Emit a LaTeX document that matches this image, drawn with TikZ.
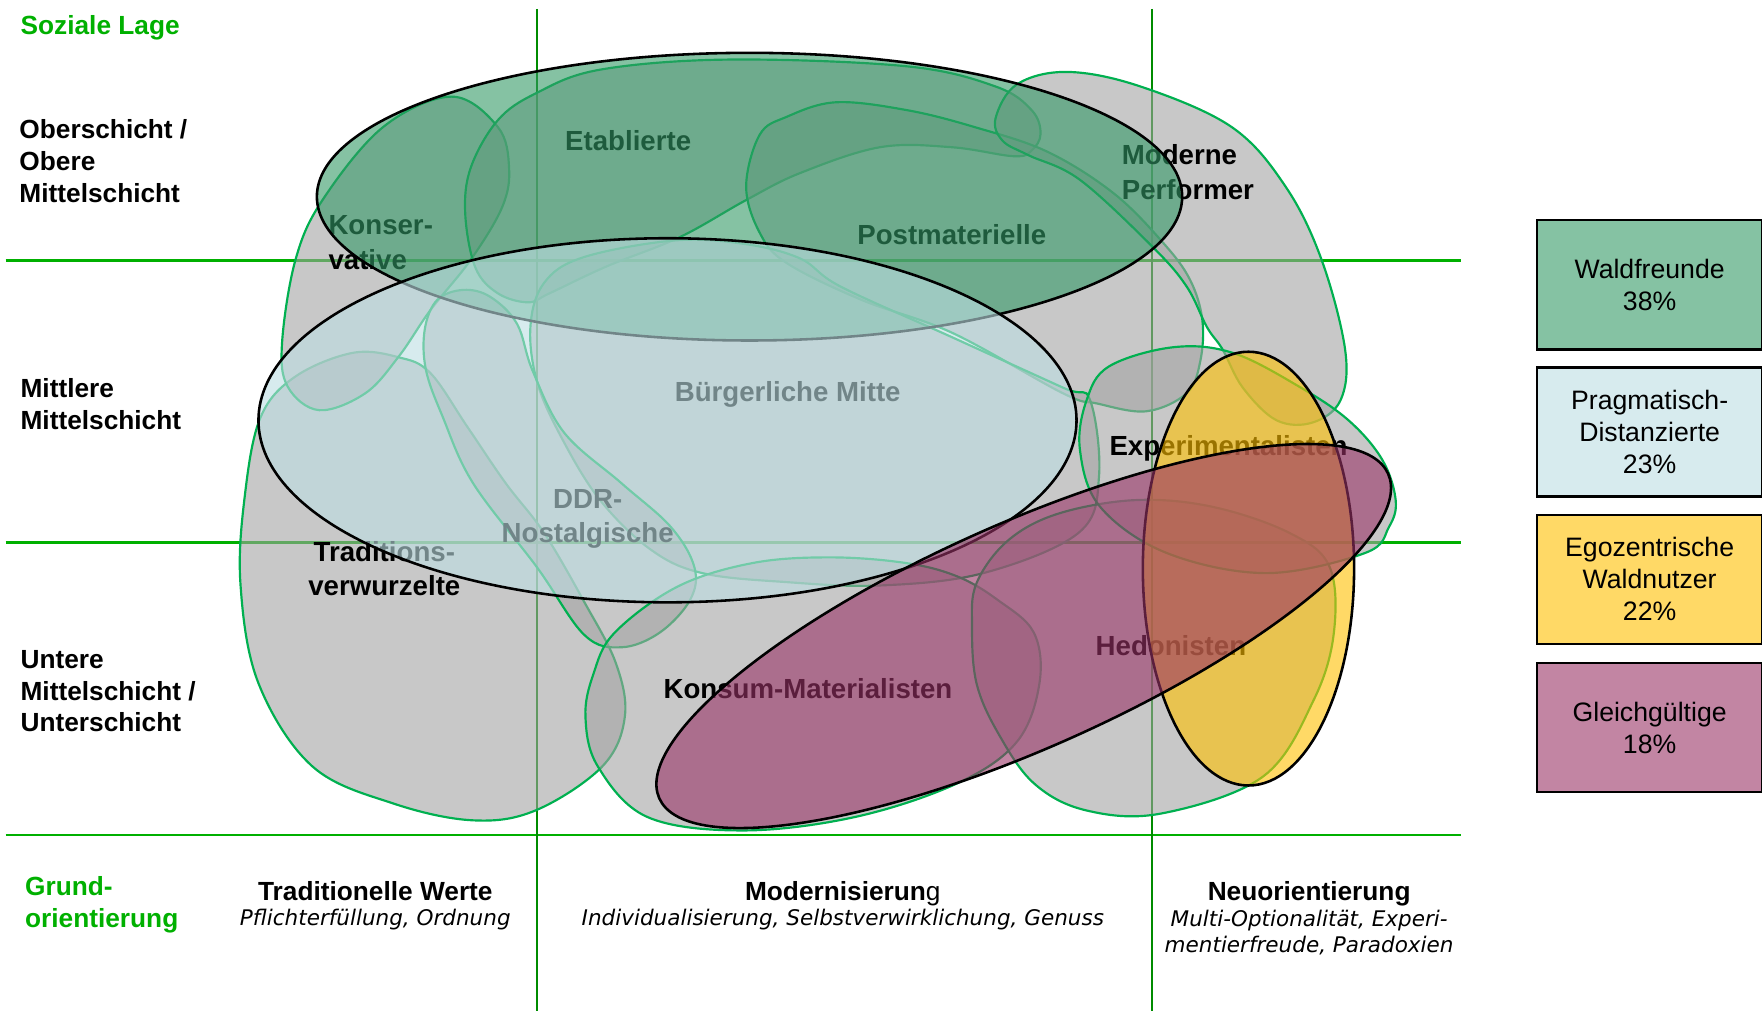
\documentclass[tikz,border=0pt]{standalone}
\usepackage{fontspec}
\setmainfont{Liberation Sans}
\newfontfamily\verdfont{DejaVu Sans}
\usetikzlibrary{positioning}

\definecolor{gridgreen}{RGB}{0,176,0}
\definecolor{axisgreen}{RGB}{0,140,0}
\definecolor{rimgreen}{RGB}{0,176,80}
\definecolor{milieugray}{RGB}{163,163,163}
\definecolor{waldgreen}{RGB}{51,153,102}
\definecolor{pragblue}{RGB}{189,222,227}
\definecolor{egogold}{RGB}{255,192,0}
\definecolor{gleichpink}{RGB}{153,51,102}

\newcommand{\rowfont}{\fontsize{13.3}{16.2}\selectfont\bfseries}
\newcommand{\milfont}{\fontsize{14}{17.5}\selectfont\bfseries}
\newcommand{\legfont}{\fontsize{13.5}{16.2}\selectfont}
\newcommand{\subfont}{\verdfont\itshape\fontsize{10.9}{13}\selectfont}

\begin{document}
\begin{tikzpicture}[
    x=0.02cm, y=-0.02cm,
    rim/.style={
        draw=rimgreen, line width=1.1pt,
        fill=milieugray, fill opacity=0.6
    },
    cover/.style={draw=black, line width=1.3pt, fill opacity=0.6},
    hline/.style={draw=gridgreen, line width=1.4pt},
    vline/.style={draw=axisgreen, line width=1pt},
    rowlabel/.style={anchor=west, align=left, inner sep=0pt, font=\rowfont},
    milieu/.style={align=center, inner sep=0pt, text depth=0pt, font=\milfont},
    legbox/.style={
        draw=black, line width=1.2pt,
        minimum width=4cm, minimum height=2.3cm,
        align=center, inner sep=0pt, font=\legfont
    },
    head/.style={align=center, inner sep=0pt, text depth=0pt, font=\rowfont},
    sub/.style={align=center, inner sep=0pt, font=\subfont}
]
\useasboundingbox (0,0) rectangle (1568,900);

\foreach \yy in {232,483,743}
    \draw[hline] (5,\yy) -- (1300,\yy);
\foreach \xx in {478,1025}
    \draw[vline] (\xx,8) -- (\xx,900);

\draw[rim] plot[smooth cycle, tension=0.6] coordinates {
    (232,371) (263,335) (314,314) (355,318) (383,332) (416,380) (450,430)
    (484,474) (519,534) (548,590) (556,638) (536,682) (477,721) (421,730)
    (350,715) (278,682) (230,608) (214,520) (218,440)};
\draw[rim] plot[smooth cycle, tension=0.6] coordinates {
    (402,86) (443,113) (453,149) (447,184) (419,231) (383,276) (355,317)
    (325,350) (284,365) (256,344) (251,305) (263,231) (287,178) (341,113)};
\draw[rim] plot[smooth cycle, tension=0.6] coordinates {
    (534,62) (649,53) (807,59) (886,77) (918,98) (926,119) (918,134)
    (902,139) (847,131) (783,131) (712,154) (664,178) (605,211) (540,237)
    (489,261) (470,269) (443,261) (423,238) (414,190) (419,149) (443,107)
    (477,83)};
\draw[rim] plot[smooth cycle, tension=0.6] coordinates {
    (664,166) (676,120) (700,104) (744,91) (807,98) (867,113) (932,135)
    (991,172) (1035,216) (1059,249) (1070,285) (1068,322) (1056,350)
    (1020,366) (976,359) (946,350) (847,296) (767,267) (700,234) (676,207)};
\draw[rim] plot[smooth cycle, tension=0.6] coordinates {
    (886,105) (905,75) (950,64) (1015,77) (1096,113) (1144,166) (1176,231)
    (1197,311) (1193,356) (1168,376) (1136,374) (1106,345) (1088,311)
    (1074,291) (1056,255) (1026,220) (961,160) (915,138) (892,125)};
\draw[rim] plot[smooth cycle, tension=0.6] coordinates {
    (484,252) (519,229) (600,214) (662,217) (712,230) (748,255) (847,300)
    (946,345) (970,356) (978,424) (960,474) (875,510) (783,521) (700,518)
    (625,510) (579,489) (534,445) (500,390) (478,340) (472,291)};
\draw[rim] plot[smooth cycle, tension=0.6] coordinates {
    (412,258) (436,264) (460,288) (474,330) (502,385) (553,430) (597,469)
    (618,505) (614,534) (587,563) (553,576) (520,565) (478,505) (421,430)
    (394,371) (379,329) (378,293) (389,267)};
\draw[rim] plot[smooth cycle, tension=0.6] coordinates {
    (547,563) (603,522) (670,501) (739,496) (806,501) (852,513) (888,534)
    (920,563) (925,608) (905,660) (852,697) (761,727) (661,739) (576,727)
    (532,682) (521,638) (528,600)};
\draw[rim] plot[smooth cycle, tension=0.6] coordinates {
    (865,558) (869,519) (897,481) (942,457) (1011,445) (1079,451)
    (1147,474) (1183,504) (1187,563) (1169,623) (1124,691) (1033,724)
    (966,721) (920,697) (888,652) (869,608)};
\draw[rim] plot[smooth cycle, tension=0.6] coordinates {
    (961,400) (967,356) (987,326) (1044,309) (1097,314) (1156,344)
    (1200,374) (1230,409) (1242,445) (1236,469) (1215,492) (1127,510)
    (1038,492) (979,451)};

\node[rowlabel, text=gridgreen, text depth=0pt] (soziale) at (18,22) {Soziale Lage};
\node[rowlabel] (ober) at (17,143) {Oberschicht /\\Obere\\Mittelschicht};
\node[rowlabel] (mittel) at (18,360) {Mittlere\\Mittelschicht};
\node[rowlabel] (unter) at (18,615) {Untere\\Mittelschicht /\\Unterschicht};
\node[rowlabel, text=gridgreen] (grund) at (22,805) {Grund-\\orientierung};

\node[milieu] (etab) at (559,125) {Etablierte};
\node[milieu] (postmat) at (847,209) {Postmaterielle};
\node[milieu, anchor=west, align=left] (modperf) at (998,153) {Moderne\\Performer};
\node[milieu, anchor=west, align=left] (konserv) at (292,216) {Konser-\\vative};
\node[milieu] (buerger) at (701,348) {Bürgerliche Mitte};
\node[milieu] (ddr) at (523,459) {DDR-\\Nostalgische};
\node[milieu] (tradit) at (342,506) {Traditions-\\verwurzelte};
\node[milieu, anchor=west] (experi) at (987,396) {Experimentalisten};
\node[milieu] (konsum) at (719,613) {Konsum-Materialisten};
\node[milieu] (hedon) at (1042,574) {Hedonisten};

\node[head] (tradwerte) at (334,793) {Traditionelle Werte};
\node[sub] (tradsub) at (334,818) {Pflichterfüllung, Ordnung};
\node[head] (modern) at (750,793) {Modernisierun{\mdseries g}};
\node[sub] (modsub) at (750,818) {Individualisierung, Selbstverwirklichung, Genuss};
\node[head] (neuor) at (1165,793) {Neuorientierung};
\node[sub] (neusub) at (1165,830) {Multi-Optionalität, Experi-\\mentierfreude, Paradoxien};

\coordinate (waldc) at (667,175);
\draw[cover, fill=waldgreen] (waldc) ellipse [x radius=385, y radius=128];
\coordinate (pragc) at (594,374);
\draw[cover, fill=pragblue] (pragc) ellipse [x radius=364, y radius=162];
\coordinate (egoc) at (1111,506);
\draw[cover, fill=egogold] (egoc) ellipse [x radius=94, y radius=193];
\coordinate (gleichc) at (911,566);
\draw[cover, fill=gleichpink, rotate around={24:(gleichc)}]
    (gleichc) ellipse [x radius=355, y radius=100];

\node[legbox, fill=waldgreen!60!white] (waldfr) at (1468,253.5) {Waldfreunde\\38\%};
\node[legbox, fill=pragblue!60!white] (pragdist) at (1468,384.5) {Pragmatisch-\\Distanzierte\\23\%};
\node[legbox, fill=egogold!60!white] (egozen) at (1468,515.5) {Egozentrische\\Waldnutzer\\22\%};
\node[legbox, fill=gleichpink!60!white] (gleichg) at (1468,647.5) {Gleichgültige\\18\%};
\end{tikzpicture}
\end{document}
